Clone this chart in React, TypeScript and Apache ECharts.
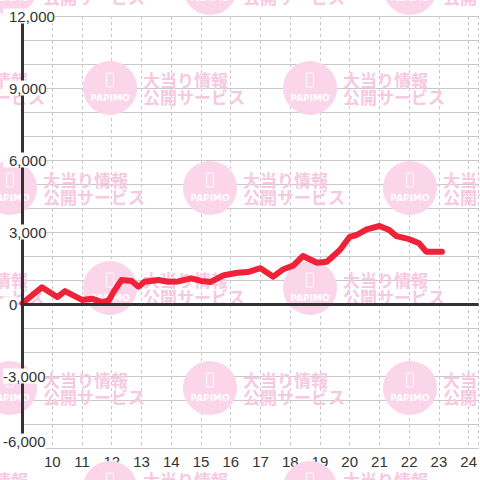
import React, { useEffect, useRef } from "react";
import * as echarts from "echarts";

const hours = [9.0, 9.65, 10.17, 10.43, 11.0, 11.33, 11.67, 11.9, 12.1, 12.33, 12.67, 12.9, 13.1, 13.57, 13.9, 14.23, 14.67, 15.0, 15.33, 15.77, 16.23, 16.57, 17.0, 17.43, 17.77, 18.1, 18.43, 18.9, 19.23, 19.67, 20.0, 20.23, 20.57, 21.0, 21.33, 21.57, 22.0, 22.33, 22.57, 23.1];
const values = [30, 700, 290, 540, 170, 220, 80, 150, 580, 1000, 960, 720, 930, 1000, 930, 940, 1070, 960, 920, 1200, 1300, 1330, 1490, 1140, 1450, 1600, 2000, 1720, 1760, 2250, 2800, 2875, 3110, 3250, 3080, 2830, 2700, 2530, 2180, 2180];
const yTicks = [-6000, -3000, 0, 3000, 6000, 9000, 12000];
const xTickLabels = ["10", "11", "12", "13", "14", "15", "16", "17", "18", "19", "20", "21", "22", "23", "24"];

const FONT = "'Liberation Sans', Arial, sans-serif";

function watermark(cx: number, cy: number) {
  return [
    { type: "circle", z: 1, silent: true, shape: { cx, cy, r: 27 }, style: { fill: "#fbd5ea" } },
    { type: "rect", z: 1, silent: true, shape: { x: cx - 3.5, y: cy - 15, width: 7, height: 14, r: 1 }, style: { fill: "none", stroke: "#ffffff", lineWidth: 1 } },
    { type: "text", z: 1, silent: true, x: cx, y: cy + 10, style: { text: "PAPIMO", fill: "#ffffff", font: "bold 9px 'DejaVu Sans', sans-serif", align: "center", verticalAlign: "middle" } },
    { type: "text", z: 1, silent: true, x: cx + 33, y: cy, style: { text: "大当り情報\n公開サービス", fill: "#f6c9e1", font: "bold 17px 'Noto Sans CJK JP', sans-serif", lineHeight: 17, align: "left", verticalAlign: "middle" } },
  ];
}

export default function App() {
  const ref = useRef<HTMLDivElement>(null);
  useEffect(() => {
    if (!ref.current) return;
    const chart = echarts.init(ref.current, null, { renderer: "svg" });
    const marks: any[] = [];
    for (let row = 0; row < 6; row++) {
      const cy = -12 + row * 100;
      const off = row % 2 === 1 ? 100 : 0;
      for (let cx = -190 + off; cx < 560; cx += 200) {
        marks.push(...watermark(cx, cy));
      }
    }
    const fmtY = (v: number) => {
      const s = v.toLocaleString("en-US");
      if (v === -6000) return `{m|${s}}`;
      if (v < 0) return `{n|${s}}`;
      return `{p|${s}}`;
    };
    chart.setOption({
      animation: false,
      backgroundColor: "#ffffff",
      grid: { left: 20.5, right: 0, top: 16, bottom: 32, containLabel: false },
      graphic: marks,
      xAxis: {
        type: "value",
        min: 9,
        max: 24 + 1 / 3,
        interval: 1,
        z: 0,
        axisLine: { show: false },
        axisTick: { show: false },
        splitLine: { show: true, lineStyle: { color: "#c8c8c8", type: [3, 3], width: 1 } },
        axisLabel: {
          show: true,
          margin: 6,
          color: "#333",
          fontSize: 15,
          fontFamily: FONT,
          showMinLabel: false,
          showMaxLabel: false,
          formatter: (v: number) => {
            const i = Math.round(v);
            if (Math.abs(v - i) > 1e-6) return "";
            return xTickLabels.includes(String(i)) ? String(i) : "";
          },
        },
      },
      yAxis: [
        {
          type: "value",
          min: -6000,
          max: 12000,
          interval: 1000,
          z: 0,
          axisLine: { show: false },
          axisTick: { show: false },
          axisLabel: { show: false },
          splitLine: { show: true, lineStyle: { color: "#c8c8c8", width: 1 } },
        },
        {
          type: "value",
          position: "left",
          min: -6000,
          max: 12000,
          interval: 3000,
          z: 4,
          axisLine: { show: true, onZero: false, lineStyle: { color: "#333", width: 3 } },
          axisTick: { show: false },
          splitLine: { show: false },
          axisLabel: {
            show: true,
            align: "left",
            margin: 19.5,
            color: "#333",
            fontSize: 15,
            fontFamily: FONT,
            formatter: (v: number) => (yTicks.includes(v) ? fmtY(v) : ""),
            rich: {
              p: { color: "#333", fontSize: 15, fontFamily: FONT, backgroundColor: "#ffffff", padding: [0, 0, 0, 6], lineHeight: 17 },
              n: { color: "#333", fontSize: 15, fontFamily: FONT, backgroundColor: "#ffffff", lineHeight: 17 },
              m: { color: "#333", fontSize: 15, fontFamily: FONT, backgroundColor: "#ffffff", padding: [0, 0, 14, 0], lineHeight: 17 },
            },
          },
        },
      ],
      series: [
        {
          type: "line",
          yAxisIndex: 0,
          z: 3,
          data: hours.map((h, i) => [h, values[i]]),
          showSymbol: false,
          symbol: "none",
          lineStyle: { color: "#ee2238", width: 6, cap: "round", join: "round" },
          markLine: {
            silent: true,
            symbol: ["none", "none"],
            label: { show: false },
            lineStyle: { color: "#333", width: 3, type: "solid" },
            data: [{ yAxis: 0 }],
          },
        },
      ],
    });
    return () => chart.dispose();
  }, []);
  return <div ref={ref} style={{ position: "fixed", left: 0, top: 0, width: 480, height: 480 }} />;
}
